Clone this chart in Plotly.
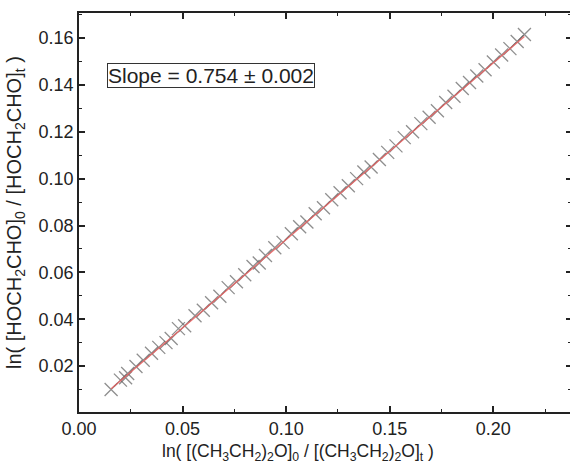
import plotly.graph_objects as go

# Data
x_vals = [0.0155, 0.0200, 0.0225, 0.0235, 0.0275, 0.0310, 0.0350, 0.0385, 0.0420, 0.0445,
          0.0480, 0.0510, 0.0560, 0.0600, 0.0640, 0.0680, 0.0720, 0.0760, 0.0800, 0.0840,
          0.0870, 0.0900, 0.0945, 0.0985, 0.1025, 0.1065, 0.1100, 0.1140, 0.1180, 0.1220,
          0.1260, 0.1300, 0.1340, 0.1375, 0.1410, 0.1450, 0.1490, 0.1530, 0.1570, 0.1610,
          0.1650, 0.1690, 0.1730, 0.1770, 0.1810, 0.1850, 0.1885, 0.1920, 0.1960, 0.2000,
          0.2040, 0.2080, 0.2115, 0.2150]
y_vals = [0.0100, 0.0140, 0.0150, 0.0168, 0.0198, 0.0225, 0.0255, 0.0280, 0.0300, 0.0318,
          0.0360, 0.0372, 0.0415, 0.0438, 0.0470, 0.0498, 0.0535, 0.0560, 0.0590, 0.0625,
          0.0640, 0.0672, 0.0705, 0.0728, 0.0765, 0.0795, 0.0815, 0.0850, 0.0876, 0.0910,
          0.0940, 0.0970, 0.1000, 0.1028, 0.1050, 0.1082, 0.1112, 0.1140, 0.1175, 0.1200,
          0.1235, 0.1262, 0.1290, 0.1325, 0.1352, 0.1385, 0.1410, 0.1438, 0.1465, 0.1498,
          0.1528, 0.1555, 0.1585, 0.1615]
fit_x = [0.0155, 0.2150]
fit_y = [0.0103, 0.1607]

x_ticks = [0.00, 0.05, 0.10, 0.15, 0.20]
x_tick_labels = ["0.00", "0.05", "0.10", "0.15", "0.20"]
y_ticks = [0.02, 0.04, 0.06, 0.08, 0.10, 0.12, 0.14, 0.16]
y_tick_labels = ["0.02", "0.04", "0.06", "0.08", "0.10", "0.12", "0.14", "0.16"]
slope_text = "Slope = 0.754 ± 0.002"
x_title = ("ln( [(CH<sub>3</sub>CH<sub>2</sub>)<sub>2</sub>O]<sub>0</sub> / "
           "[(CH<sub>3</sub>CH<sub>2</sub>)<sub>2</sub>O]<sub>t</sub> )")
y_title = "ln( [HOCH<sub>2</sub>CHO]<sub>0</sub> / [HOCH<sub>2</sub>CHO]<sub>t</sub> )"

x_range = [0.0, 0.237]
y_range = [0.0004, 0.1707]

axis_color = "#222222"
font_family = "Liberation Sans, Arial, sans-serif"

fig = go.Figure()
fig.add_trace(go.Scatter(
    x=x_vals, y=y_vals, mode="markers",
    marker=dict(symbol="x-thin", size=13,
                line=dict(width=1.3, color="rgba(95,95,95,0.7)")),
    showlegend=False, hoverinfo="skip"))
fig.add_trace(go.Scatter(
    x=fit_x, y=fit_y, mode="lines",
    line=dict(color="rgba(235,95,95,0.85)", width=1.3),
    showlegend=False, hoverinfo="skip"))
# invisible trace to carry right-side ticks
fig.add_trace(go.Scatter(
    x=[fit_x[0]], y=[fit_y[0]], yaxis="y2", mode="markers",
    marker=dict(opacity=0), showlegend=False, hoverinfo="skip"))

fig.update_layout(
    width=570, height=472,
    margin=dict(l=79, r=0, t=13, b=60),
    paper_bgcolor="white", plot_bgcolor="white",
    font=dict(family=font_family, color=axis_color, size=18),
    xaxis=dict(
        range=x_range, tickvals=x_ticks, ticktext=x_tick_labels,
        showline=True, linecolor=axis_color, linewidth=1.6, mirror="ticks",
        ticks="inside", ticklen=6, tickwidth=1.5, tickcolor=axis_color,
        minor=dict(ticks="inside", dtick=0.025, tick0=0.0, ticklen=3,
                   tickwidth=1.3, tickcolor=axis_color, showgrid=False),
        showgrid=False, zeroline=False,
        tickfont=dict(size=18),
    ),
    yaxis=dict(
        range=y_range, tickvals=y_ticks, ticktext=y_tick_labels,
        showline=True, linecolor=axis_color, linewidth=1.6, mirror=False,
        ticks="inside", ticklen=6, tickwidth=1.5, tickcolor=axis_color,
        minor=dict(ticks="inside", dtick=0.01, tick0=0.0, ticklen=3,
                   tickwidth=1.3, tickcolor=axis_color, showgrid=False),
        showgrid=False, zeroline=False,
        tickfont=dict(size=18),
    ),
    yaxis2=dict(
        range=y_range, overlaying="y", side="right", anchor="x",
        tickvals=y_ticks, showticklabels=False, showline=False,
        ticks="inside", ticklen=4, tickwidth=1.5, tickcolor=axis_color,
        minor=dict(ticks="inside", dtick=0.01, tick0=0.0, ticklen=2,
                   tickwidth=1.3, tickcolor=axis_color, showgrid=False),
        showgrid=False, zeroline=False,
    ),
    annotations=[
        dict(text=slope_text, xref="paper", yref="paper", x=0.268, y=0.843,
             xanchor="center", yanchor="middle", showarrow=False,
             font=dict(size=21, color=axis_color),
             bordercolor="#333333", borderwidth=1, borderpad=0, bgcolor="white"),
        dict(text=x_title, xref="paper", yref="paper", x=0.446, y=-0.102,
             xanchor="center", yanchor="middle", showarrow=False,
             font=dict(size=17.5, color=axis_color)),
        dict(text=y_title, xref="paper", yref="paper", x=-0.128, y=0.499,
             xanchor="center", yanchor="middle", showarrow=False, textangle=-90,
             font=dict(size=20, color=axis_color)),
    ],
)

fig.write_html("out.html")
